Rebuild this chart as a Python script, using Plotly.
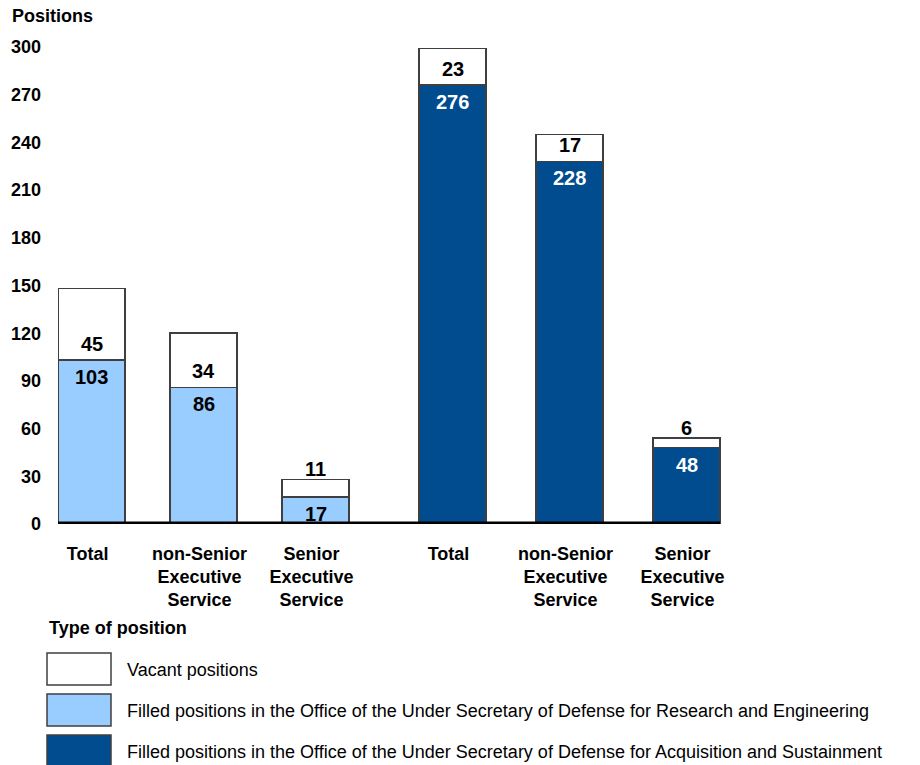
import plotly.graph_objects as go
from plotly.subplots import make_subplots

# ---- data ----
categories = ["Total", "non-Senior Executive Service", "Senior Executive Service"]
tick_labels = ["Total", "non-Senior<br>Executive<br>Service", "Senior<br>Executive<br>Service"]
re_filled = [103, 86, 17]
re_vacant = [45, 34, 11]
as_filled = [276, 228, 48]
as_vacant = [23, 17, 6]
y_ticks = [0, 30, 60, 90, 120, 150, 180, 210, 240, 270, 300]
legend_labels = [
    "Vacant positions",
    "Filled positions in the Office of the Under Secretary of Defense for Research and Engineering",
    "Filled positions in the Office of the Under Secretary of Defense for Acquisition and Sustainment",
]

W, H = 920, 765
FONT = "Liberation Sans, Arial, sans-serif"
LIGHT = "#99CCFF"
DARK = "#014C8F"
EDGE = "#3f3f3f"

fig = make_subplots(rows=1, cols=2, shared_yaxes=True)

groups = [
    (re_filled, re_vacant, LIGHT, "black", 0.6, 1),
    (as_filled, as_vacant, DARK, "white", 0.573, 2),
]
for filled, vacant, color, tcolor, width, col in groups:
    fig.add_trace(go.Bar(
        x=categories, y=filled, marker=dict(color=color, line=dict(color=EDGE, width=1.5)),
        width=width, showlegend=False, hoverinfo="y",
    ), row=1, col=col)
    fig.add_trace(go.Bar(
        x=categories, y=vacant, marker=dict(color="white", line=dict(color=EDGE, width=1.5)),
        width=width, showlegend=False, hoverinfo="y",
    ), row=1, col=col)
    xref = "x" if col == 1 else "x2"
    for c, f, v in zip(categories, filled, vacant):
        # filled label, just inside the top of the filled segment
        fig.add_annotation(x=c, y=f, xref=xref, yref="y", text=f"<b>{f}</b>",
                           showarrow=False, yanchor="top", yshift=-4,
                           font=dict(family=FONT, size=20, color=tcolor))
        # vacant label
        seg_px = v * (477 / 300)
        if seg_px >= 24:
            yv, ys = f, 3
        else:
            yv, ys = f + v, -3
        fig.add_annotation(x=c, y=yv, xref=xref, yref="y", text=f"<b>{v}</b>",
                           showarrow=False, yanchor="bottom", yshift=ys,
                           font=dict(family=FONT, size=20, color="black"))

fig.update_layout(
    barmode="stack",
    width=W, height=H, autosize=False,
    margin=dict(l=0, r=0, t=0, b=0, pad=0, autoexpand=False),
    paper_bgcolor="white", plot_bgcolor="white",
    font=dict(family=FONT, color="black"),
)

y_dom = [1 - 524 / H, 1 - 47 / H]
fig.update_yaxes(range=[0, 300], domain=y_dom, tickvals=y_ticks, showgrid=False,
                 zeroline=False, showline=False, automargin=False,
                 tickfont=dict(family=FONT, size=18, color="black", weight="bold"))
fig.update_yaxes(ticklabelstandoff=16, row=1, col=1)
fig.update_xaxes(showgrid=False, zeroline=False, showline=False, type="category",
                 automargin=False,
                 tickvals=categories, ticktext=tick_labels,
                 tickfont=dict(family=FONT, size=18, color="black", weight="bold"),
                 ticks="outside", ticklen=13, tickcolor="white", ticklabelshift=-4)
fig.update_xaxes(domain=[58 / W, 371.6 / W], range=[-0.3, 2.5], row=1, col=1)
fig.update_xaxes(domain=[394 / W, 721.6 / W], range=[-0.5, 2.3], row=1, col=2)

# baseline
fig.add_shape(type="line", xref="paper", yref="y", x0=58 / W, x1=720 / W, y0=0, y1=0,
              line=dict(color="black", width=5), layer="above")

# y-axis title
fig.add_annotation(xref="paper", yref="paper", x=10 / W, y=1 - 16 / H, text="<b>Positions</b>",
                   showarrow=False, xanchor="left", yanchor="middle",
                   font=dict(family=FONT, size=18, color="black"))

# custom legend
fig.add_annotation(xref="paper", yref="paper", x=47 / W, y=1 - 628 / H, text="<b>Type of position</b>",
                   showarrow=False, xanchor="left", yanchor="middle",
                   font=dict(family=FONT, size=18, color="black"))
box_colors = ["white", LIGHT, DARK]
box_tops = [653, 694, 735]
for lab, bc, top in zip(legend_labels, box_colors, box_tops):
    fig.add_shape(type="rect", xref="paper", yref="paper",
                  x0=47 / W, x1=111 / W, y0=1 - top / H, y1=1 - (top + 32) / H,
                  fillcolor=bc, line=dict(color=EDGE, width=1.5))
    fig.add_annotation(xref="paper", yref="paper", x=125 / W, y=1 - (top + 17) / H, text=lab,
                       showarrow=False, xanchor="left", yanchor="middle",
                       font=dict(family=FONT, size=18, color="black"))

fig.write_html("out.html", config={"displayModeBar": False, "responsive": False},
               post_script="document.body.style.margin='0';document.body.style.overflow='hidden';")
